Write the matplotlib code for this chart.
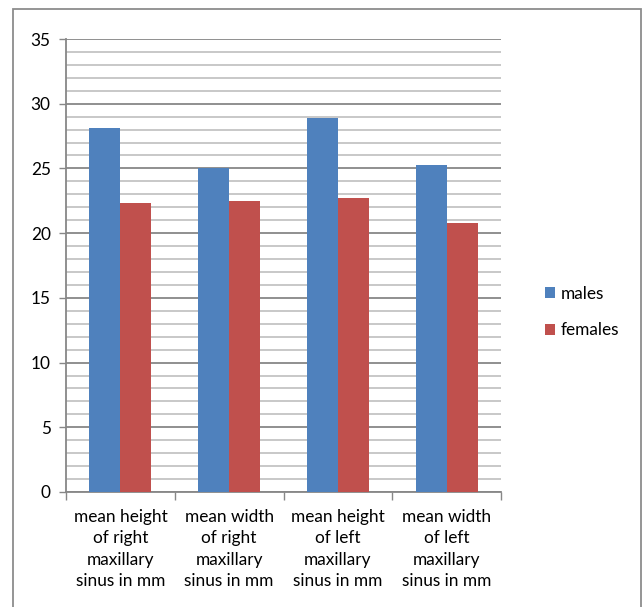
import matplotlib.pyplot as plt
import numpy as np
from matplotlib.patches import Rectangle
from matplotlib.ticker import MultipleLocator

plt.rcParams['font.family'] = ['Lato', 'DejaVu Sans']

categories = [
    "mean height\nof right\nmaxillary\nsinus in mm",
    "mean width\nof right\nmaxillary\nsinus in mm",
    "mean height\nof left\nmaxillary\nsinus in mm",
    "mean width\nof left\nmaxillary\nsinus in mm",
]
males = [28.1, 25.0, 28.9, 25.3]
females = [22.35, 22.5, 22.7, 20.8]

blue = "#4F81BD"
red = "#C0504D"
axis_gray = "#878787"
fs = 12.4

fig = plt.figure(figsize=(6.42, 6.07), dpi=100)
ax = fig.add_axes([66 / 642, 1 - 492 / 607, 435 / 642, 453 / 607])

x = np.arange(len(categories))
w = 1 / 3.5
ax.bar(x - w / 2, males, w, color=blue, label="males", zorder=3)
ax.bar(x + w / 2, females, w, color=red, label="females", zorder=3)

ax.set_xlim(-0.5, len(categories) - 0.5)
ax.set_ylim(0, 35)
ax.yaxis.set_major_locator(MultipleLocator(5))
ax.yaxis.set_minor_locator(MultipleLocator(1))
ax.grid(axis="y", which="major", color=axis_gray, lw=1.3, zorder=1)
ax.grid(axis="y", which="minor", color="#c4c4c4", lw=1.3, zorder=1)
ax.tick_params(axis="y", which="minor", length=0)
ax.tick_params(axis="y", which="major", length=5, width=1, color=axis_gray,
               labelsize=fs, pad=6)

# category labels centered, ticks on the boundaries between groups
ax.set_xticks(x)
ax.set_xticklabels(categories, fontsize=fs, linespacing=1.42)
ax.tick_params(axis="x", which="major", length=0, pad=12)
ax.set_xticks(np.arange(-0.5, len(categories)), minor=True)
ax.tick_params(axis="x", which="minor", length=6, width=1, color=axis_gray)

for side in ("top", "right"):
    ax.spines[side].set_visible(False)
for side in ("left", "bottom"):
    ax.spines[side].set_color(axis_gray)
    ax.spines[side].set_linewidth(1.3)

ax.legend(loc="center left", bbox_to_anchor=(529 / 642, 1 - 312 / 607),
          bbox_transform=fig.transFigure, frameon=False, fontsize=fs,
          handlelength=0.6, handleheight=0.6, handletextpad=0.35,
          labelspacing=1.2)

# chart frame
fig.patches.append(Rectangle((13 / 642, -0.02), 628 / 642, 1.02 - 9 / 607,
                             transform=fig.transFigure, fill=False,
                             edgecolor="#8c8c8c", lw=1.3))

fig.savefig("out.png", dpi=100)
